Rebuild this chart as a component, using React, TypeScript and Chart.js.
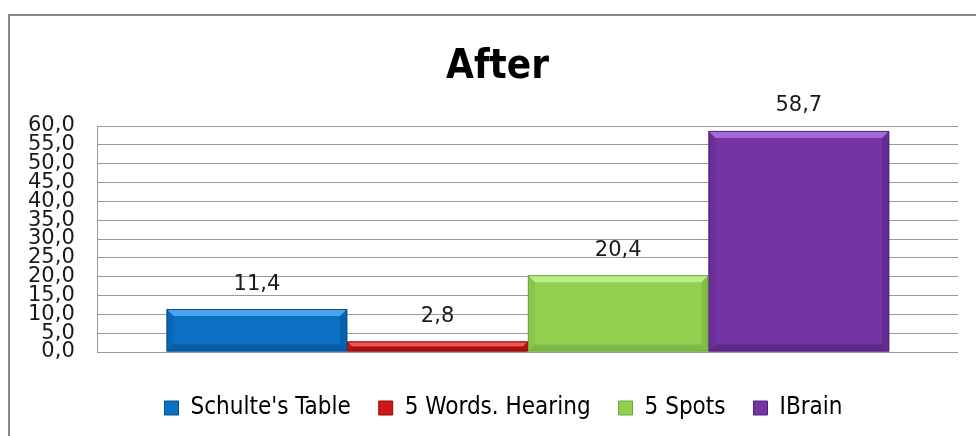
import React, { useEffect, useRef } from "react";
import { Chart, registerables } from "chart.js";

Chart.register(...registerables);

const categories = [""];
const seriesNames = ["Schulte's Table", "5 Words. Hearing", "5 Spots", "IBrain"];
const seriesValues = [[11.4], [2.8], [20.4], [58.7]];
const valueLabels = ["11,4", "2,8", "20,4", "58,7"];
const mainColors = ["#0B6FC2", "#D0181A", "#92D050", "#7434A4"];
const lightColors = ["#4AA3EC", "#F25555", "#BDEB8E", "#A46BD6"];
const darkColors = ["#06508F", "#8E0C0C", "#6EA83C", "#52217A"];
const yMin = 0;
const yMax = 60;
const yStep = 5;

const shiftPlugin = {
  id: "shiftBoxes",
  afterLayout(chart: any) {
    if (chart.titleBlock) chart.titleBlock.left += 32;
    if (chart.legend) chart.legend.left += 44;
  },
};

const bevelPlugin = {
  id: "bevel",
  afterDatasetsDraw(chart: any) {
    const ctx = chart.ctx;
    chart.data.datasets.forEach((ds: any, i: number) => {
      const meta = chart.getDatasetMeta(i);
      meta.data.forEach((bar: any) => {
        const p = bar.getProps(["x", "y", "base", "width"], true);
        const l = p.x - p.width / 2;
        const r = p.x + p.width / 2;
        const t = Math.min(p.y, p.base);
        const btm = Math.max(p.y, p.base);
        const b = Math.min(7, (btm - t) / 2, p.width / 2);
        ctx.save();
        ctx.fillStyle = lightColors[i];
        ctx.beginPath();
        ctx.moveTo(l, t); ctx.lineTo(r, t); ctx.lineTo(r - b, t + b); ctx.lineTo(l + b, t + b); ctx.closePath();
        ctx.fill();
        ctx.globalAlpha = 0.45;
        ctx.fillStyle = darkColors[i];
        ctx.beginPath();
        ctx.moveTo(r, t); ctx.lineTo(r, btm); ctx.lineTo(r - b, btm - b); ctx.lineTo(r - b, t + b); ctx.closePath();
        ctx.fill();
        ctx.globalAlpha = 0.25;
        ctx.beginPath();
        ctx.moveTo(l, t); ctx.lineTo(l, btm); ctx.lineTo(l + b, btm - b); ctx.lineTo(l + b, t + b); ctx.closePath();
        ctx.fill();
        ctx.globalAlpha = 0.6;
        ctx.beginPath();
        ctx.moveTo(l, btm); ctx.lineTo(r, btm); ctx.lineTo(r - b, btm - b); ctx.lineTo(l + b, btm - b); ctx.closePath();
        ctx.fill();
        ctx.globalAlpha = 1;
        ctx.strokeStyle = darkColors[i];
        ctx.lineWidth = 1;
        ctx.strokeRect(l + 0.5, t + 0.5, p.width - 1, btm - t - 1);
        ctx.restore();
      });
    });
  },
};

const valueLabelPlugin = {
  id: "valueLabels",
  afterDatasetsDraw(chart: any) {
    const ctx = chart.ctx;
    ctx.save();
    ctx.font = "21px 'DejaVu Sans'";
    ctx.fillStyle = "#1a1a1a";
    ctx.textAlign = "center";
    ctx.textBaseline = "middle";
    chart.data.datasets.forEach((ds: any, i: number) => {
      const meta = chart.getDatasetMeta(i);
      meta.data.forEach((bar: any) => {
        ctx.fillText(valueLabels[i], bar.x, bar.y - 25);
      });
    });
    ctx.restore();
  },
};

export default function App() {
  const ref = useRef<HTMLCanvasElement>(null);
  useEffect(() => {
    if (!ref.current) return;
    const chart = new Chart(ref.current, {
      type: "bar",
      data: {
        labels: categories,
        datasets: seriesNames.map((name, i) => ({
          label: name,
          data: seriesValues[i],
          backgroundColor: mainColors[i],
          borderWidth: 0,
          barPercentage: 1,
          categoryPercentage: 0.84,
        })),
      },
      options: {
        animation: false,
        responsive: false,
        maintainAspectRatio: false,
        layout: { padding: { left: 5, right: 18, top: 0, bottom: 6 } },
        plugins: {
          title: {
            display: true,
            text: "After",
            color: "#000",
            font: { family: "'DejaVu Sans Condensed', 'DejaVu Sans'", size: 40, weight: "bold", lineHeight: 1.2 },
            padding: { top: 44, bottom: 34 },
          },
          legend: {
            display: true,
            position: "bottom",
            labels: {
              color: "#1a1a1a",
              font: { family: "'DejaVu Sans Condensed', 'DejaVu Sans'", size: 24 },
              boxWidth: 14,
              boxHeight: 14,
              padding: 28,
              generateLabels: (chart: any) =>
                chart.data.datasets.map((ds: any, i: number) => ({
                  text: ds.label,
                  fillStyle: mainColors[i],
                  strokeStyle: darkColors[i],
                  lineWidth: 1,
                  datasetIndex: i,
                  hidden: false,
                })),
            },
          },
          tooltip: { enabled: false },
        },
        scales: {
          x: {
            display: true,
            grid: { display: true, drawOnChartArea: false, drawTicks: true, tickLength: 16, color: "rgba(0,0,0,0)" },
            border: { display: false },
            ticks: { display: false },
          },
          y: {
            min: yMin,
            max: yMax,
            grid: { color: "#9a9a9a", lineWidth: 1, drawTicks: false },
            border: { display: true, color: "#9a9a9a", width: 1 },
            ticks: {
              stepSize: yStep,
              padding: 23,
              color: "#1a1a1a",
              font: { family: "'DejaVu Sans'", size: 21 },
              autoSkip: false,
              callback: (v: any) => Number(v).toFixed(1).replace(".", ","),
            },
          },
        },
      },
      plugins: [shiftPlugin, bevelPlugin, valueLabelPlugin],
    });
    return () => chart.destroy();
  }, []);
  return (
    <>
      <canvas
        ref={ref}
        width={976}
        height={436}
        style={{ position: "absolute", left: 0, top: 0, width: 976, height: 436, background: "#fff" }}
      />
      <div
        style={{
          position: "absolute",
          left: 8,
          top: 14,
          width: 966,
          height: 420,
          borderLeft: "2px solid #878787",
          borderTop: "2px solid #878787",
          pointerEvents: "none",
        }}
      />
    </>
  );
}
